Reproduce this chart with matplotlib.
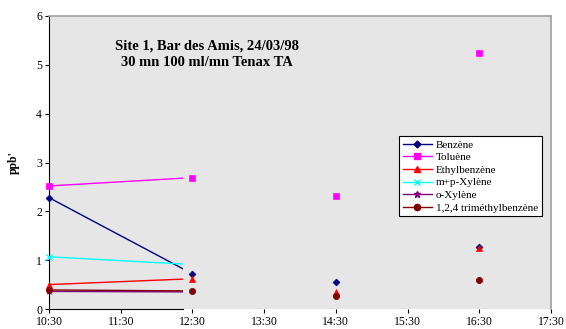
import numpy as np
import matplotlib
matplotlib.use("Agg")
import matplotlib.pyplot as plt
from matplotlib.patches import Rectangle

plt.rcParams['font.family'] = ['Liberation Serif', 'DejaVu Serif']

# ---- data ----
times = [10.5, 12.5, 14.5, 16.5]
tick_pos = [10.5, 11.5, 12.5, 13.5, 14.5, 15.5, 16.5, 17.5]
tick_labels = ["10:30", "11:30", "12:30", "13:30", "14:30", "15:30", "16:30", "17:30"]

names = ["Benzène", "Toluène", "Ethylbenzène", "m+p-Xylène", "o-Xylène", "1,2,4 triméthylbenzène"]
benzene = [2.28, 0.72, 0.55, 1.27]
toluene = [2.52, 2.69, 2.31, 5.25]
ethylbenzene = [0.50, 0.62, 0.35, 1.24]
mp_xylene = [1.07, 0.91, np.nan, np.nan]
o_xylene = [0.36, 0.35, np.nan, np.nan]
tmb = [0.39, 0.37, 0.27, 0.59]
hidden_1230 = ["m+p-Xylène", "o-Xylène"]   # no marker shown at 12:30
line_clip_end = 12.37   # connecting lines visible only up to here

series = [benzene, toluene, ethylbenzene, mp_xylene, o_xylene, tmb]
colors = ["#000080", "#FF00FF", "#FF0000", "#00FFFF", "#800080", "#800000"]
markers = ["D", "s", "^", "x", "*", "o"]
msizes = [3.5, 4.5, 4.5, 4.5, 5, 4.5]

fig = plt.figure(figsize=(5.66, 3.29), dpi=100)
ax = fig.add_axes([49/566, 20/329, 502/566, 293/329])
ax.set_facecolor("#e6e6e6")
fig.patch.set_facecolor("white")

ax.set_xlim(10.5, 17.5)
ax.set_ylim(0, 6)

clip = Rectangle((10.5, -1), line_clip_end - 10.5, 8, transform=ax.transData)

handles = []
for name, vals, c, m, ms in zip(names, series, colors, markers, msizes):
    ln, = ax.plot(times[:2], vals[:2], color=c, lw=1.0, zorder=3)
    ln.set_clip_path(clip)
    mv = list(vals)
    if name in hidden_1230:
        mv[1] = np.nan
    ax.plot(times, mv, linestyle="none", marker=m, color=c, ms=ms,
            markeredgewidth=1.0 if m == "x" else 0.5, zorder=4, clip_on=False)
    h, = ax.plot([], [], color=c, lw=1.0, marker=m, ms=ms)
    handles.append(h)

ax.set_xticks(tick_pos)
ax.set_xticklabels(tick_labels, fontsize=8.5)
ax.set_yticks(range(0, 7))
ax.set_yticklabels([str(i) for i in range(0, 7)], fontsize=8.5)
ax.tick_params(direction="out", length=3, width=0.8, pad=2)

for s in ["top", "right"]:
    ax.spines[s].set_color("#a0a0a0")
    ax.spines[s].set_linewidth(1.2)
ax.spines["left"].set_color("black")
ax.spines["bottom"].set_color("black")
ax.spines["bottom"].set_bounds(10.5, line_clip_end)

ax.set_ylabel("ppb'", fontsize=8.5, fontweight="bold", labelpad=12)

ax.text(0.315, 0.868, "Site 1, Bar des Amis, 24/03/98\n30 mn 100 ml/mn Tenax TA",
        transform=ax.transAxes, ha="center", va="center", fontsize=10.5,
        fontweight="bold", linespacing=1.35)

leg = ax.legend(handles, names, loc="upper left", bbox_to_anchor=(0.697, 0.59),
                fontsize=8, frameon=True, fancybox=False, edgecolor="black",
                framealpha=1, handlelength=2.6, handletextpad=0.4,
                labelspacing=0.25, borderpad=0.35, borderaxespad=0)
leg.get_frame().set_linewidth(0.8)

fig.savefig("out.png", dpi=100)
